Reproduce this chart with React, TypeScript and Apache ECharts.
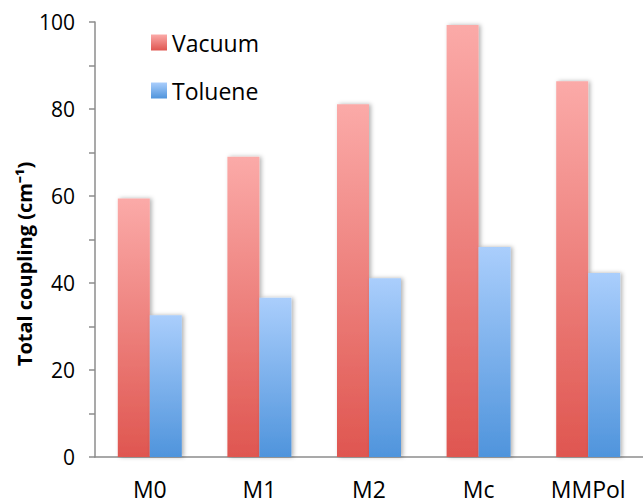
import React, { useEffect, useRef } from "react";
import * as echarts from "echarts";

const categories = ["M0", "M1", "M2", "Mc", "MMPol"];
const vacuum = [59.4, 69.0, 81.1, 99.3, 86.4];
const toluene = [32.6, 36.6, 41.1, 48.3, 42.3];
const yTitle = "Total coupling (cm\u207B\u00B9)";

const FONT = "Open Sans";

export default function App() {
  const ref = useRef<HTMLDivElement>(null);
  useEffect(() => {
    const chart = echarts.init(ref.current!, null, { renderer: "svg" });
    const redGrad = new echarts.graphic.LinearGradient(0, 0, 0, 1, [
      { offset: 0, color: "#FBAAA8" },
      { offset: 1, color: "#DF5650" },
    ]);
    const blueGrad = new echarts.graphic.LinearGradient(0, 0, 0, 1, [
      { offset: 0, color: "#AACEFC" },
      { offset: 1, color: "#4F94DC" },
    ]);
    chart.setOption({
      animation: false,
      backgroundColor: "#ffffff",
      textStyle: { fontFamily: FONT },
      legend: {
        orient: "vertical",
        left: 151,
        top: 31,
        padding: 0,
        itemWidth: 16,
        itemHeight: 16,
        itemGap: 25,
        icon: "rect",
        textStyle: { fontSize: 23, color: "#000", fontFamily: FONT },
        data: ["Vacuum", "Toluene"],
      },
      grid: { left: 95, top: 22, bottom: 47, width: 555 },
      graphic: [
        {
          type: "text",
          x: 24,
          y: 264,
          rotation: Math.PI / 2,
          style: {
            text: yTitle,
            fontSize: 20,
            fontWeight: "bold",
            fontFamily: FONT,
            fill: "#000",
            textAlign: "center",
            textVerticalAlign: "middle",
          },
        },
      ],
      xAxis: {
        type: "category",
        data: categories,
        axisLine: { lineStyle: { color: "#8c8c8c", width: 1.5 } },
        axisTick: { alignWithLabel: true, length: 6, lineStyle: { color: "#8c8c8c", width: 1.5 } },
        axisLabel: { fontSize: 23, color: "#000", margin: 20, fontFamily: FONT },
      },
      yAxis: {
        type: "value",
        min: 0,
        max: 100,
        interval: 20,
        axisLine: { show: true, lineStyle: { color: "#8c8c8c", width: 1.5 } },
        axisTick: { show: true, length: 6, lineStyle: { color: "#8c8c8c", width: 1.5 } },
        minorTick: { show: true, splitNumber: 2, length: 6, lineStyle: { color: "#8c8c8c", width: 1.5 } },
        splitLine: { show: false },
        axisLabel: { fontSize: 21, color: "#000", margin: 20, fontFamily: FONT },
      },
      series: [
        {
          name: "Vacuum",
          type: "bar",
          data: vacuum,
          barWidth: 32,
          barGap: "0%",
          itemStyle: {
            color: redGrad,
            shadowColor: "rgba(0,0,0,0.3)",
            shadowBlur: 4,
            shadowOffsetX: 2,
          },
        },
        {
          name: "Toluene",
          type: "bar",
          data: toluene,
          barWidth: 32,
          barGap: "0%",
          itemStyle: {
            color: blueGrad,
            shadowColor: "rgba(0,0,0,0.3)",
            shadowBlur: 4,
            shadowOffsetX: 2,
          },
        },
      ],
    });
    return () => chart.dispose();
  }, []);
  return <div ref={ref} style={{ width: 643, height: 504, position: "absolute", left: 0, top: 0 }} />;
}
